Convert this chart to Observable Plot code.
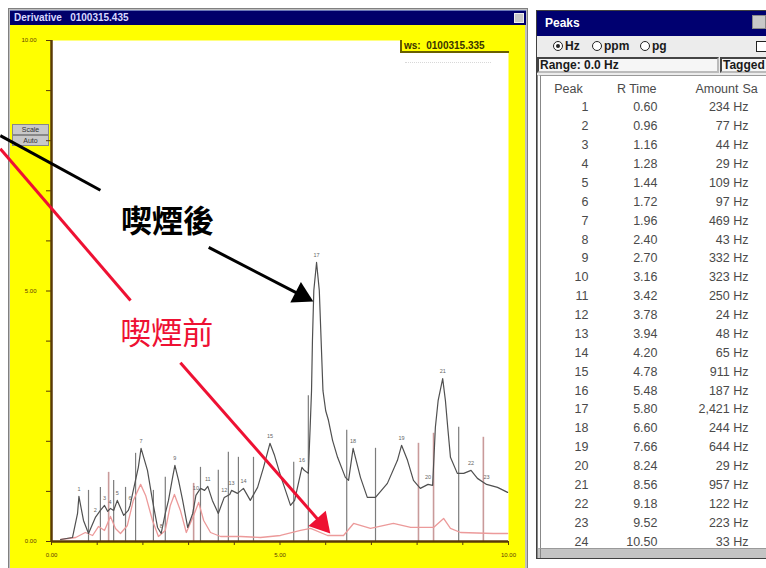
<!DOCTYPE html>
<html><head><meta charset="utf-8">
<script src="https://cdn.jsdelivr.net/npm/d3@7"></script>
<script src="https://cdn.jsdelivr.net/npm/@observablehq/plot@0.6"></script>
<style>
html,body{margin:0;padding:0;background:#fff;}
#page{position:relative;width:766px;height:568px;overflow:hidden;font-family:"Liberation Sans",Arial,sans-serif;}
.a{position:absolute;box-sizing:border-box;}
#chart{position:absolute;left:0;top:0;z-index:1;}
#table{position:absolute;left:537px;top:75px;z-index:3;}
.z{z-index:2;}
.btn{background:#c8c8c8;border:1px solid #888;font:7px "Liberation Sans";color:#333;text-align:center;line-height:9px;}
.rad{width:10px;height:10px;border:1.5px solid #222;border-radius:50%;background:#fff;}
.lbl{font:bold 12px "Liberation Sans";color:#1a1a1a;white-space:nowrap;}
</style></head><body><div id="page">
<!-- left window -->
<div class="a" style="left:8px;top:8px;width:520px;height:570px;border:1px solid #808080;background:#c0c0c0"></div>
<div class="a" style="left:10px;top:10px;width:516px;height:15px;background:#00006a;border-top:1px solid #6a78b8"></div>
<div class="a" style="left:14px;top:11px;color:#d8d8ff;font:bold 10px 'Liberation Sans';line-height:13px;white-space:nowrap">Derivative&nbsp;&nbsp;&nbsp;0100315.435</div>
<div class="a" style="left:514px;top:13px;width:10px;height:10px;background:#c8c8c8;border:1px solid #eee"></div>
<div class="a" style="left:10px;top:25px;width:515px;height:543px;background:#ffff00"></div>
<div class="a btn" style="left:12px;top:124px;width:37px;height:11px">Scale</div>
<div class="a btn" style="left:12px;top:135px;width:37px;height:11px">Auto</div>
<!-- chart -->
<div id="chart"></div>
<div class="a z" style="left:400px;top:40px;width:109px;height:13px;background:#ffff00;border-left:2px solid #6a6000;border-bottom:2px solid #6a6000;font:bold 10px 'Liberation Sans';color:#3a3400;line-height:11px;padding-left:2px;white-space:nowrap">ws:&nbsp; 0100315.335</div>
<div class="a z" style="left:405px;top:62px;width:86px;height:1px;border-top:1px dotted #d8d8d8"></div>
<!-- peaks window -->
<div class="a z" style="left:536px;top:10px;width:240px;height:549px;border:1px solid #404040;background:#ececec"></div>
<div class="a z" style="left:537px;top:11px;width:240px;height:25px;background:#000070"></div>
<div class="a z" style="left:545px;top:16px;color:#fff;font:bold 12px 'Liberation Sans';line-height:15px">Peaks</div>
<div class="a z" style="left:752px;top:15px;width:14px;height:14px;background:#c8c8c8;border:1px solid #888"></div>
<div class="a z rad" style="left:553px;top:41px"></div>
<div class="a z" style="left:556px;top:44px;width:4px;height:4px;border-radius:50%;background:#222"></div>
<div class="a z lbl" style="left:565px;top:39px">Hz</div>
<div class="a z rad" style="left:592px;top:41px"></div>
<div class="a z lbl" style="left:604px;top:39px">ppm</div>
<div class="a z rad" style="left:640px;top:41px"></div>
<div class="a z lbl" style="left:652px;top:39px">pg</div>
<div class="a z" style="left:756px;top:41px;width:12px;height:11px;border:1.5px solid #222;background:#fff"></div>
<div class="a z" style="left:537px;top:57px;width:182px;height:16px;border:2px solid #444;border-right-color:#bbb;border-bottom-color:#bbb;background:#f6f6f6"></div>
<div class="a z lbl" style="left:540px;top:58px">Range: 0.0 Hz</div>
<div class="a z" style="left:720px;top:57px;width:50px;height:16px;border:2px solid #444;border-right:none;border-bottom-color:#bbb;background:#f6f6f6"></div>
<div class="a z lbl" style="left:723px;top:58px">Tagged</div>
<div class="a z" style="left:537px;top:75px;width:231px;height:473px;background:#fff;border-left:4px double #888;border-top:1px solid #999"></div>
<div class="a z" style="left:537px;top:548px;width:231px;height:10px;background:#c4c4c4;border-top:1px solid #999;border-left:4px double #888"></div>
<div id="table"></div>
</div>
<script>
// ---------- data ----------
const peakNumbers = [1,2,3,4,5,6,7,8,9,10,11,12,13,14,15,16,17,18,19,20,21,22,23,24];
const retentionTimes = [0.60,0.96,1.16,1.28,1.44,1.72,1.96,2.40,2.70,3.16,3.42,3.78,3.94,4.20,4.78,5.48,5.80,6.60,7.66,8.24,8.56,9.18,9.52,10.50];
const amountsHz = [234,77,44,29,109,97,469,43,332,323,250,24,48,65,911,187,2421,244,644,29,957,122,223,33];
const tableHeaders = ["Peak","R Time","Amount","Sa"];

// trace after smoking [time (min), signal]
const afterSmoking = [[0.20,0.4],[0.46,0.8],[0.57,5.6],[0.60,9.0],[0.70,4.2],[0.81,1.6],[0.96,4.8],[1.07,6.2],[1.16,7.2],[1.23,6.0],[1.29,6.6],[1.36,6.2],[1.44,8.2],[1.58,5.2],[1.68,6.2],[1.72,7.2],[1.79,10.2],[1.90,14.8],[1.96,18.6],[2.10,14.2],[2.21,8.2],[2.32,2.8],[2.40,1.6],[2.49,5.6],[2.56,8.2],[2.65,12.8],[2.70,15.2],[2.78,12.2],[2.87,8.2],[2.98,2.8],[3.09,5.6],[3.16,9.2],[3.26,10.6],[3.35,10.2],[3.42,11.0],[3.52,8.2],[3.65,5.6],[3.78,8.8],[3.90,9.4],[3.94,10.2],[4.07,9.6],[4.20,10.6],[4.35,8.2],[4.51,10.8],[4.64,14.8],[4.78,19.6],[4.88,17.2],[5.01,13.2],[5.12,10.2],[5.23,7.2],[5.32,8.2],[5.48,14.8],[5.53,14.2],[5.62,13.6],[5.66,22.8],[5.69,30.1],[5.71,40.1],[5.74,50.1],[5.80,55.7],[5.86,50.1],[5.90,40.1],[5.94,30.1],[6.00,26.1],[6.06,24.2],[6.15,20.2],[6.26,16.8],[6.43,12.8],[6.50,12.2],[6.60,18.6],[6.76,12.8],[6.91,8.8],[7.09,8.8],[7.35,11.6],[7.57,16.2],[7.66,19.2],[7.79,16.2],[7.92,12.2],[8.07,10.6],[8.24,11.4],[8.34,11.2],[8.40,22.8],[8.46,28.1],[8.56,32.5],[8.62,28.1],[8.67,22.8],[8.73,16.8],[8.88,13.6],[9.02,13.6],[9.18,14.2],[9.32,12.6],[9.52,11.4],[9.76,10.8],[9.98,9.8]];
// trace before smoking
const beforeSmoking = [[0.20,0.4],[0.53,0.8],[0.74,1.8],[0.90,1.2],[1.03,3.0],[1.16,2.2],[1.29,5.0],[1.40,2.6],[1.51,1.6],[1.66,3.2],[1.79,8.2],[1.95,11.4],[2.06,9.2],[2.21,4.2],[2.34,1.0],[2.49,2.2],[2.60,7.2],[2.69,9.4],[2.82,6.2],[2.95,1.8],[3.11,5.2],[3.22,7.8],[3.33,4.2],[3.48,1.8],[3.70,1.0],[4.14,1.0],[4.57,0.8],[5.01,1.2],[5.45,2.2],[5.67,2.6],[6.04,1.2],[6.39,1.2],[6.61,3.6],[6.98,2.6],[7.48,3.6],[7.86,2.8],[8.36,2.8],[8.58,4.6],[8.73,2.6],[8.95,1.8],[9.67,1.6],[9.98,1.6]];
// peak marker rules [time, top]
const afterMarkers = [[0.81,10.2],[1.07,10.8],[1.36,12.2],[1.62,10.8],[1.84,17.6],[2.23,10.2],[2.49,12.8],[3.26,14.8],[3.65,14.2],[3.87,17.8],[4.09,16.8],[4.42,16.8],[5.30,15.8],[5.62,29.1],[6.46,22.2],[7.09,18.6],[8.91,22.8]];
const beforeMarkers = [[1.25,13.8],[3.11,11.6],[8.03,19.6],[8.36,21.6],[9.45,20.8]];
const xTicks = [0,1,2,3,4,5,6,7,8,9,10];
const yTicks = [0,10,20,30,40,50,60,70,80,90,100];
// annotations (data coordinates)
const labelAfter = [{text:"喫煙後", t:2.54, v:63.7}];
const labelBefore = [{text:"喫煙前", t:2.52, v:41.5}];
const leaderAfter = [{t1:-1.12, v1:81.0, t2:1.07, v2:70.1}];
const leaderBefore = [{t1:-1.12, v1:78.4, t2:1.73, v2:48.1}];
const arrowAfter = [{t1:3.44, v1:58.7, t2:5.73, v2:47.9}];
const arrowBefore = [{t1:2.82, v1:35.7, t2:6.10, v2:1.6}];

// ---------- chart ----------
const W = 766, H = 568, mL = 51, mR = 258, mT = 40, mB = 27;
const xDom = [0, 10], yDom = [0, 100];
const sx = d3.scaleLinear(xDom, [mL, W - mR]);
const sy = d3.scaleLinear(yDom, [H - mB, mT]);
const BLACK = "#000", RED = "#ee1133";

function interp(t) {
  for (let i = 1; i < afterSmoking.length; i++) {
    const [t0, v0] = afterSmoking[i - 1], [t1, v1] = afterSmoking[i];
    if (t >= t0 && t <= t1) return v0 + (v1 - v0) * (t - t0) / (t1 - t0);
  }
  return 0;
}
const peakLabels = peakNumbers.map((p, i) => ({p, t: retentionTimes[i]}))
  .filter(d => d.t <= xDom[1]).map(d => ({...d, v: interp(d.t)}));

function shaftAndHead(arr) {
  const HL = 20; // head length px
  return arr.map(a => {
    const x1 = sx(a.t1), y1 = sy(a.v1), x2 = sx(a.t2), y2 = sy(a.v2);
    const L = Math.hypot(x2 - x1, y2 - y1), ux = (x2 - x1) / L, uy = (y2 - y1) / L;
    const ex = x2 - ux * HL * 0.7, ey = y2 - uy * HL * 0.7;
    const cx = x2 - ux * HL * 2 / 3, cy = y2 - uy * HL * 2 / 3;
    return {t1: a.t1, v1: a.v1, t2: sx.invert(ex), v2: sy.invert(ey),
            ht: sx.invert(cx), hv: sy.invert(cy), rot: Math.atan2(ux, -uy) * 180 / Math.PI};
  });
}
const shA = shaftAndHead(arrowAfter), shB = shaftAndHead(arrowBefore);
const headR = Math.sqrt((20 / 3) ** 2 * 3 * Math.sqrt(3) / Math.PI);

const axisColor = "#5a3a06";
const chart = Plot.plot({
  width: W, height: H, marginLeft: mL, marginRight: mR, marginTop: mT, marginBottom: mB,
  x: {domain: xDom}, y: {domain: yDom},
  style: {background: "transparent", fontFamily: "Liberation Sans", fontSize: "6px", overflow: "visible"},
  marks: [
    Plot.frame({fill: "white", stroke: "none"}),
    Plot.ruleX(afterMarkers, {x: d => d[0], y1: d => 0, y2: d => d[1], stroke: "#7c7c7c", strokeWidth: 1.2}),
    Plot.ruleX(beforeMarkers, {x: d => d[0], y1: d => 0, y2: d => d[1], stroke: "#c99a9a", strokeWidth: 1.6}),
    Plot.line(beforeSmoking, {x: d => d[0], y: d => d[1], stroke: "#ec9a9a", strokeWidth: 1.3}),
    Plot.line(afterSmoking, {x: d => d[0], y: d => d[1], stroke: "#505050", strokeWidth: 1.2}),
    Plot.text(peakLabels, {x: "t", y: "v", text: d => String(d.p), dy: -7, fontSize: 5.5, fill: "#666"}),
    Plot.axisX({ticks: xTicks, tickSize: 4, tickPadding: 7, color: axisColor, fontSize: 6,
      tickFormat: d => d % 5 === 0 ? d.toFixed(2) : ""}),
    Plot.axisY({ticks: yTicks, tickSize: 5, tickPadding: 10, color: axisColor, fontSize: 6,
      tickFormat: d => d % 50 === 0 ? (d / 10).toFixed(2) : ""}),
    Plot.ruleX([0], {stroke: axisColor, strokeWidth: 2.5}),
    Plot.ruleY([0], {stroke: axisColor, strokeWidth: 2.5}),
    // annotations
    Plot.link(leaderAfter, {x1: "t1", y1: "v1", x2: "t2", y2: "v2", stroke: BLACK, strokeWidth: 3}),
    Plot.link(leaderBefore, {x1: "t1", y1: "v1", x2: "t2", y2: "v2", stroke: RED, strokeWidth: 3}),
    Plot.link(shA, {x1: "t1", y1: "v1", x2: "t2", y2: "v2", stroke: BLACK, strokeWidth: 3}),
    Plot.link(shB, {x1: "t1", y1: "v1", x2: "t2", y2: "v2", stroke: RED, strokeWidth: 3}),
    Plot.dot(shA, {x: "ht", y: "hv", symbol: "triangle", r: headR, rotate: "rot", fill: BLACK, stroke: "none"}),
    Plot.dot(shB, {x: "ht", y: "hv", symbol: "triangle", r: headR, rotate: "rot", fill: RED, stroke: "none"}),
    Plot.text(labelAfter, {x: "t", y: "v", text: "text", fill: BLACK, fontSize: 31, fontWeight: "bold", fontFamily: "Noto Sans CJK TC"}),
    Plot.text(labelBefore, {x: "t", y: "v", text: "text", fill: RED, fontSize: 31, fontFamily: "Noto Sans CJK TC"})
  ]
});
document.getElementById("chart").append(chart);

// ---------- peaks table ----------
const rows = peakNumbers.map((p, i) => ({p, rt: retentionTimes[i], amt: amountsHz[i]}));
const fmt = d3.format(",");
const tcol = {fill: "#4a4a4a", frameAnchor: "left", fontSize: 12.5};
const table = Plot.plot({
  width: 229, height: 473, marginLeft: 0, marginRight: 0, marginTop: 13, marginBottom: 7,
  y: {domain: [0, 24], reverse: true, axis: null},
  style: {background: "transparent", fontFamily: "Liberation Sans", overflow: "hidden"},
  marks: [
    Plot.text([tableHeaders[0]], {...tcol, y: d => 0, text: d => d, dx: 31, textAnchor: "middle"}),
    Plot.text([tableHeaders[1]], {...tcol, y: d => 0, text: d => d, dx: 119, textAnchor: "end"}),
    Plot.text([tableHeaders[2]], {...tcol, y: d => 0, text: d => d, dx: 201, textAnchor: "end"}),
    Plot.text([tableHeaders[3]], {...tcol, y: d => 0, text: d => d, dx: 205, textAnchor: "start"}),
    Plot.text(rows, {...tcol, y: "p", text: d => String(d.p), dx: 51, textAnchor: "end"}),
    Plot.text(rows, {...tcol, y: "p", text: d => d.rt.toFixed(2), dx: 120, textAnchor: "end"}),
    Plot.text(rows, {...tcol, y: "p", text: d => fmt(d.amt) + " Hz", dx: 211, textAnchor: "end"})
  ]
});
document.getElementById("table").append(table);
</script>
</body></html>
